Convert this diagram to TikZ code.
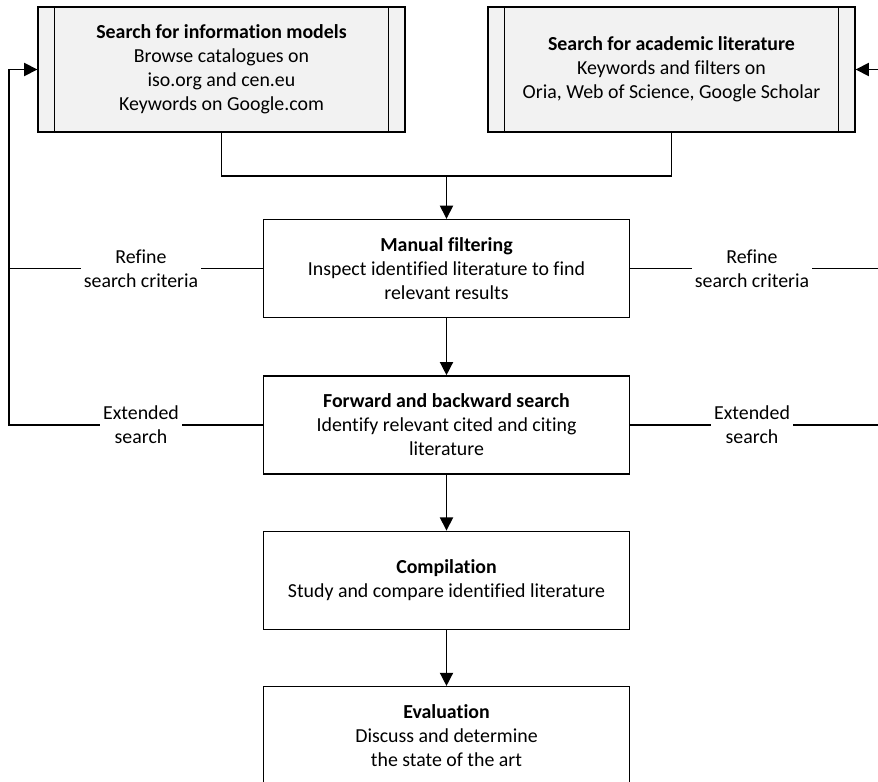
\documentclass[tikz,border=0pt]{standalone}
\usepackage{fontspec}
\setmainfont{Carlito}[Ligatures=NoCommon]
\usetikzlibrary{arrows.meta,positioning}
\definecolor{procgray}{HTML}{F2F2F2}
\tikzset{
  stepbox/.style={draw,line width=0.8pt,align=center,minimum width=7.32cm,minimum height=1.96cm,inner sep=2pt},
  searchbox/.style={stepbox,fill=procgray,minimum width=7.34cm,minimum height=2.5cm},
  loopnote/.style={fill=white,align=center,inner sep=1.5pt},
  link/.style={line width=0.8pt}
}
\begin{document}
\begin{tikzpicture}[x=0.02cm,y=-0.02cm,>={Triangle[length=7.5pt,width=7.5pt]},font=\fontsize{11.3}{13.7}\selectfont]
\useasboundingbox (0,0) rectangle (878,781);
\node[searchbox] (infomod) at (221.5,69.5) {\textbf{Search for information models}\\Browse catalogues on\\iso.org and cen.eu\\Keywords on Google.com};
\node[searchbox] (acadlit) at (671.5,69.5) {\textbf{Search for academic literature}\\Keywords and filters on\\Oria, Web of Science, Google Scholar};
\foreach \b in {infomod,acadlit}{
  \draw[link] ([xshift=0.34cm]\b.north west) -- ([xshift=0.34cm]\b.south west);
  \draw[link] ([xshift=-0.34cm]\b.north east) -- ([xshift=-0.34cm]\b.south east);
}
\node[stepbox] (manual) at (446.5,268.5) {\textbf{Manual filtering}\\Inspect identified literature to find\\relevant results};
\node[stepbox,below=1.14cm of manual] (forward) {\textbf{Forward and backward search}\\Identify relevant cited and citing\\literature};
\node[stepbox,below=1.12cm of forward] (compile) {\textbf{Compilation}\\Study and compare identified literature};
\node[stepbox,below=1.12cm of compile] (evaluate) {\textbf{Evaluation}\\Discuss and determine\\the state of the art};
\coordinate (join) at (446.5,176);
\coordinate (loopL) at (9,70);
\coordinate (loopR) at (884,70);
\draw[link] (infomod.south) |- (join) -| (acadlit.south);
\draw[link,->] (join) -- (manual.north);
\draw[link,->] (manual) -- (forward);
\draw[link,->] (forward) -- (compile);
\draw[link,->] (compile) -- (evaluate);
\draw[link] (manual.west) -- node[loopnote,pos=0.48]{Refine\\search criteria} (manual.west -| loopL);
\draw[link,->] (forward.west) -- node[loopnote,pos=0.48]{Extended\\search} (forward.west -| loopL) |- (infomod.west);
\draw[link] (manual.east) -- node[loopnote,pos=0.48]{Refine\\search criteria} (manual.east -| loopR);
\draw[link,->] (forward.east) -- node[loopnote,pos=0.48]{Extended\\search} (forward.east -| loopR) |- (acadlit.east);
\end{tikzpicture}
\end{document}
